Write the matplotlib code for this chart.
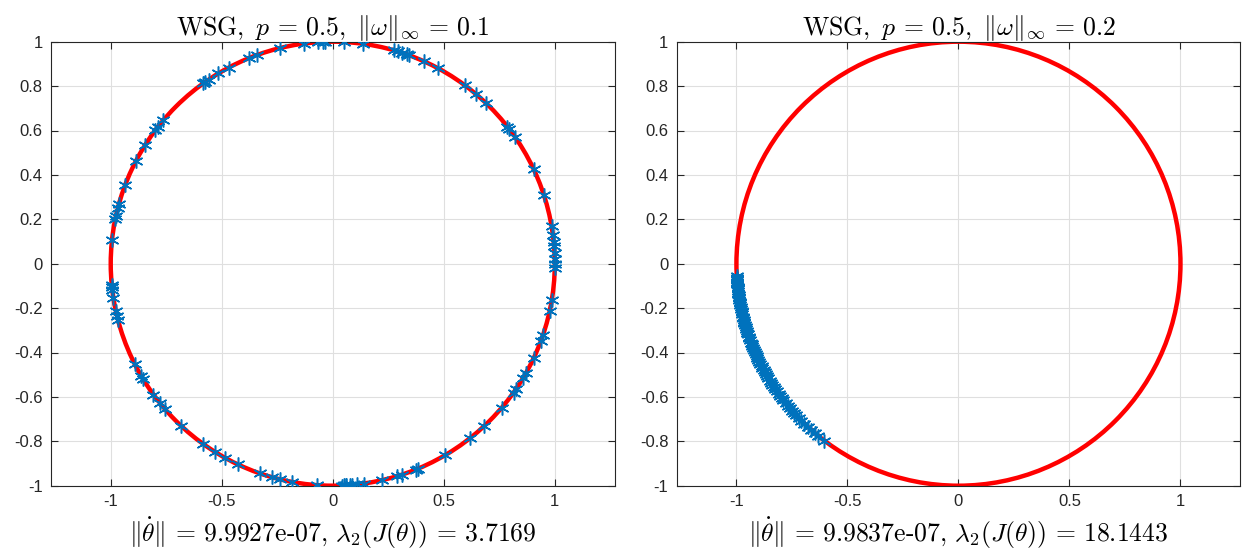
import numpy as np
import matplotlib
matplotlib.use("Agg")
import matplotlib.pyplot as plt
from matplotlib.patches import Circle

plt.rcParams['mathtext.fontset'] = 'cm'
plt.rcParams['axes.unicode_minus'] = False
plt.rcParams['font.family'] = ['Liberation Sans', 'DejaVu Sans']

# phase angles (degrees) of the oscillators at the end of each run
theta_left = [174, 168.5, 167.5, 165.5, 164.3, 159.2, 152.4, 147.6, 143, 142, 139.7,
              125.7, 125, 124, 121, 117.9, 112.3, 109.9, 103.8, 97.4, 93.7, 92.6, 92,
              87, 82.2, 74, 73, 71.8, 70.5, 69.8, 65.8, 61.6, 53.4, 49.9, 46.2, 38.1,
              37.5, 34.9, 25.2, 18, 9.7, 7.5, 5.7, 4.5, 2.8, 1.2, 0, -1.0,
              -9.3, -12.4, -18.6, -20.4, -25.1, -29.4, -30.9, -34.5, -35.5, -40.5,
              -47, -51.9, -59.5, -67.4, -68.1, -71.8, -73.2, -77.2, -83.8, -85.5,
              -86.5, -87.2, 185.4, 186, 186.7, 188.9, 192.4, 193.5, 194.6, 207,
              210.4, 211.4, 216.1, 218.8, 221, 227, 234.2, 238, 240.9, 244.7, 250.8,
              254, 256.2, 259.3, 265.9, 272.3, 273.5, 275, 278]
theta_right = [183.3, 183.6, 184.0, 184.2, 184.7, 185.1, 185.3, 185.9, 186.2, 186.6,
               187.0, 187.5, 187.8, 188.1, 188.7, 189.0, 189.4, 190.0, 190.3, 190.8,
               191.2, 191.9, 192.3, 192.6, 193.2, 193.8, 194.1, 194.6, 195.2, 195.5,
               196.1, 196.7, 197.0, 197.6, 198.1, 198.5, 199.2, 199.6, 200.1, 200.8,
               201.3, 201.7, 202.4, 202.9, 203.3, 204.0, 204.6, 205.0, 205.7, 206.3,
               206.8, 207.5, 208.0, 208.6, 209.3, 209.9, 210.4, 211.1, 211.8, 212.4,
               213.0, 213.8, 214.5, 215.1, 215.9, 216.6, 217.3, 218.0, 218.9, 219.7,
               220.5, 221.4, 222.3, 223.1, 224.0, 225.0, 226.1, 227.2, 228.4, 229.6,
               230.8, 232.8]

titles = [r'$\mathrm{WSG},\ p\,=\,0.5,\ \|\omega\|_\infty\,=\,0.1$',
          r'$\mathrm{WSG},\ p\,=\,0.5,\ \|\omega\|_\infty\,=\,0.2$']
xlabels = [r'$\|\dot{\theta}\|\,=\,9.9927$e-07, $\lambda_2(J(\theta))\,=\,3.7169$',
           r'$\|\dot{\theta}\|\,=\,9.9837$e-07, $\lambda_2(J(\theta))\,=\,18.1443$']
ticks = [-1, -0.5, 0, 0.5, 1]
yticks = [-1, -0.8, -0.6, -0.4, -0.2, 0, 0.2, 0.4, 0.6, 0.8, 1]

fig = plt.figure(figsize=(12.44, 5.5), dpi=100)
lefts = [51 / 1244, 676.7 / 1244]

for i, th in enumerate([theta_left, theta_right]):
    ax = fig.add_axes([lefts[i], 64.3 / 550, 563.5 / 1244, 444 / 550])
    ax.add_patch(Circle((0, 0), 1, fill=False, edgecolor='red', lw=3.2, zorder=2))
    th = np.deg2rad(th)
    ax.plot(np.cos(th), np.sin(th), ls='none', marker=(6, 2, 0), ms=10,
            mew=1.1, color='#0072BD', zorder=3)
    ax.set_xlim(-1.269, 1.269)
    ax.set_ylim(-1, 1)
    ax.set_xticks(ticks)
    ax.set_xticklabels(['-1', '-0.5', '0', '0.5', '1'])
    ax.set_yticks(yticks)
    ax.set_yticklabels(['%g' % v for v in yticks])
    ax.grid(True, color='#dfdfdf', lw=0.8)
    ax.set_axisbelow(True)
    ax.tick_params(direction='in', top=True, right=True, length=5, width=0.8,
                   colors='#262626', labelsize=12, pad=6)
    for s in ax.spines.values():
        s.set_color('#262626')
        s.set_linewidth(0.8)
    ax.set_title(titles[i], fontsize=18.5, pad=5)
    ax.set_xlabel(xlabels[i], fontsize=18.5, family='cmr10', labelpad=5)

fig.savefig('out.png', dpi=100)
